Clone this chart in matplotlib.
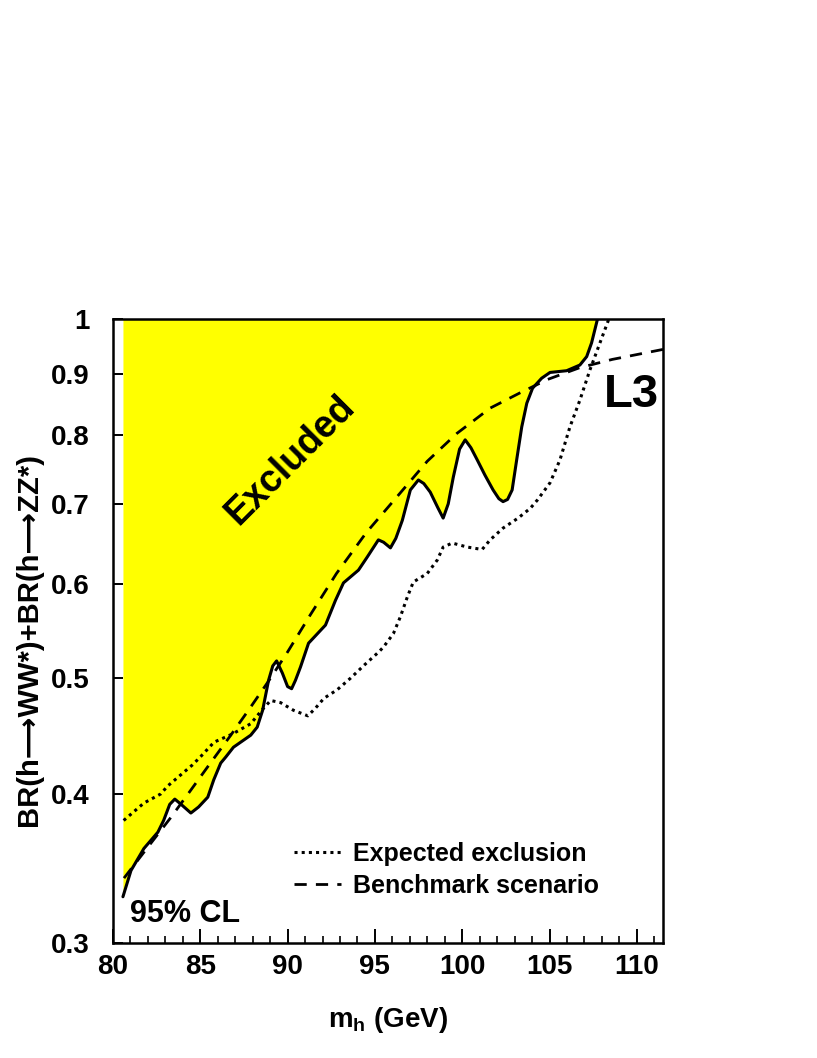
#!/usr/bin/env python3
"""L3 limit on BR(h->WW*)+BR(h->ZZ*) versus m_h."""
import matplotlib
matplotlib.use("Agg")
import matplotlib.pyplot as plt
from matplotlib.ticker import FixedLocator, MultipleLocator, NullLocator

plt.rcParams["font.family"] = ["Liberation Sans", "DejaVu Sans"]
plt.rcParams["font.weight"] = "bold"
plt.rcParams["mathtext.fontset"] = "custom"
plt.rcParams["mathtext.bf"] = "Liberation Sans:bold"
plt.rcParams["mathtext.rm"] = "Liberation Sans:bold"

# observed 95% CL limit (solid, edge of the excluded region)
obs_mh = [80.57, 81.03, 81.77, 82.57, 82.9, 83.25, 83.54, 83.9, 84.46, 84.9,
          85.43, 85.77, 86.17, 86.46, 86.9, 87.89, 88.26, 88.57, 88.91, 89.15,
          89.37, 89.7, 90.0, 90.23, 90.45, 90.74, 91.2, 92.17, 92.74, 93.2,
          94.06, 94.57, 95.2, 95.5, 95.89, 96.2, 96.57, 97.03, 97.49, 97.8,
          98.17, 98.6, 98.91, 99.2, 99.49, 99.85, 100.17, 100.5, 100.86, 101.3,
          101.77, 102.1, 102.34, 102.6, 102.86, 103.12, 103.41, 103.7, 104.03, 104.55,
          105.03, 105.98, 106.74, 107.13, 107.41, 107.75]
obs_br = [0.328, 0.345, 0.360, 0.3715, 0.380, 0.392, 0.396, 0.392, 0.3855, 0.390,
          0.3975, 0.411, 0.4245, 0.4295, 0.4377, 0.448, 0.455, 0.470, 0.498, 0.512,
          0.517, 0.505, 0.492, 0.490, 0.498, 0.511, 0.535, 0.554, 0.581, 0.601,
          0.616, 0.632, 0.653, 0.650, 0.643, 0.655, 0.678, 0.719, 0.733, 0.728,
          0.716, 0.695, 0.681, 0.700, 0.737, 0.778, 0.792, 0.780, 0.762, 0.740,
          0.719, 0.707, 0.703, 0.706, 0.719, 0.762, 0.812, 0.850, 0.875, 0.892,
          0.902, 0.905, 0.915, 0.930, 0.955, 1.0]

# expected exclusion (dotted)
exp_mh = [80.61, 81.77, 82.74, 83.12, 84.55, 85.03, 85.79, 86.84, 87.89, 88.55,
          89.03, 89.6, 90.34, 91.16, 91.6, 92.08, 92.84, 93.6, 94.4, 95.22,
          95.49, 96.06, 96.46, 96.86, 97.2, 98.0, 98.57, 98.91, 99.43, 100.29,
          101.14, 101.6, 102.34, 103.2, 103.9, 104.3, 105.03, 105.6, 106.17, 106.74,
          107.31, 107.89, 108.4]
exp_br = [0.380, 0.393, 0.400, 0.406, 0.423, 0.430, 0.442, 0.449, 0.458, 0.4706,
          0.479, 0.477, 0.470, 0.465, 0.472, 0.481, 0.489, 0.500, 0.513, 0.526,
          0.531, 0.545, 0.563, 0.585, 0.602, 0.612, 0.628, 0.644, 0.649, 0.644,
          0.641, 0.653, 0.668, 0.681, 0.694, 0.705, 0.729, 0.762, 0.812, 0.855,
          0.906, 0.955, 1.0]

# benchmark scenario (dashed)
bench_mh = [80.63, 82.0, 83.3, 84.3, 85.4, 86.7, 87.8, 88.9, 90.0, 91.3,
            92.8, 94.5, 96.1, 98.0, 99.7, 101.6, 103.3, 104.9, 106.7, 108.6, 111.5]
bench_br = [0.340, 0.361, 0.382, 0.400, 0.421, 0.447, 0.471, 0.497, 0.526, 0.565,
            0.612, 0.662, 0.705, 0.760, 0.802, 0.842, 0.867, 0.890, 0.910, 0.925, 0.943]

xticks = [80, 85, 90, 95, 100, 105, 110]
yticks = [0.3, 0.4, 0.5, 0.6, 0.7, 0.8, 0.9, 1.0]
ytick_labels = ["0.3", "0.4", "0.5", "0.6", "0.7", "0.8", "0.9", "1"]

fig = plt.figure(figsize=(8.17, 10.58), dpi=100)
ax = fig.add_axes([0.1383, 0.1087, 0.6732, 0.5898])

ax.fill_between(obs_mh, obs_br, 1.0, color="#ffff00", lw=0, zorder=1)
ax.plot(obs_mh, obs_br, color="black", lw=2.2, zorder=3,
        solid_joinstyle="round", solid_capstyle="round")
ax.plot(exp_mh, exp_br, color="black", lw=2.2, linestyle=(0, (1, 1.35)), zorder=3,
        label="Expected exclusion")
ax.plot(bench_mh, bench_br, color="black", lw=2.0, linestyle=(0, (4.4, 3.3)), zorder=3,
        label="Benchmark scenario")

ax.set_xlim(80, 111.5)
ax.set_yscale("log")
ax.set_ylim(0.3, 1.0)

ax.xaxis.set_major_locator(FixedLocator(xticks))
ax.xaxis.set_minor_locator(MultipleLocator(1))
ax.yaxis.set_major_locator(FixedLocator(yticks))
ax.yaxis.set_minor_locator(NullLocator())
ax.set_xticklabels([str(t) for t in xticks])
ax.set_yticklabels(ytick_labels)

ax.tick_params(axis="x", which="major", direction="in", length=10, width=1.4,
               labelsize=20, pad=8, top=False)
ax.tick_params(axis="x", which="minor", direction="in", length=5, width=1.2, top=False)
ax.tick_params(axis="y", which="major", direction="in", length=7, width=1.4,
               labelsize=20, pad=17, right=False)
for sp in ax.spines.values():
    sp.set_linewidth(1.8)

ax.set_xlabel(r"$\mathbf{m_h}$ (GeV)", fontsize=20, fontweight="bold", labelpad=18)
ax.set_ylabel("BR(h\u27f6WW*)+BR(h\u27f6ZZ*)", fontsize=21, fontweight="bold")
ax.yaxis.set_label_coords(-0.127, 0.486)

ax.text(90.17, 0.762, "Excluded", rotation=45, rotation_mode="anchor",
        ha="center", va="center", fontsize=27, fontweight="bold", zorder=4)
ax.text(0.942, 0.878, "L3", transform=ax.transAxes, ha="center", va="center",
        fontsize=34, fontweight="bold")
ax.text(0.031, 0.046, "95% CL", transform=ax.transAxes, ha="left", va="center",
        fontsize=22, fontweight="bold")

ax.legend(loc="center left", bbox_to_anchor=(0.33, 0.117), frameon=False,
          fontsize=18, handlelength=1.85, handletextpad=0.5, labelspacing=0.32,
          borderpad=0, borderaxespad=0)

fig.savefig("out.png", dpi=100)
